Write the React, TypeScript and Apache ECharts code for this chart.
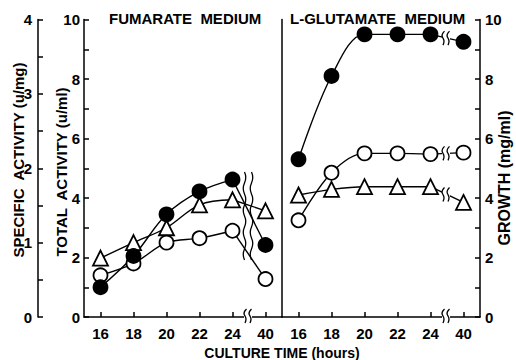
import React, { useEffect, useRef } from "react";
import * as echarts from "echarts";

// ---- data ----
const categories = ["16", "18", "20", "22", "24", "40"];
// Fumarate medium
const fumarateTotal = [1.0, 2.05, 3.45, 4.22, 4.62, 2.42]; // u/ml (filled circles)
const fumarateSpecific = [0.56, 0.72, 1.0, 1.06, 1.16, 0.51]; // u/mg (open circles)
const fumarateGrowth = [1.98, 2.5, 3.0, 3.77, 3.94, 3.57]; // mg/ml (triangles)
// L-glutamate medium
const glutamateTotal = [5.3, 8.1, 9.5, 9.5, 9.5, 9.25];
const glutamateSpecific = [1.3, 1.94, 2.2, 2.2, 2.19, 2.21];
const glutamateGrowth = [4.1, 4.29, 4.38, 4.38, 4.38, 3.85];

const totalRange = [0, 10];
const specificRange = [0, 4];
const growthRange = [0, 10];

const panelTitles = ["FUMARATE  MEDIUM", "L-GLUTAMATE  MEDIUM"];
const xName = "CULTURE TIME (hours)";
const totalName = "TOTAL  ACTIVITY (u/ml)";
const specificName = "SPECIFIC  ACTIVITY (u/mg)";
const growthName = "GROWTH (mg/ml)";

const FONT = "Liberation Sans";

function wavePath(h: number, n: number, amp: number) {
  const seg = h / n;
  let d = "M0,0";
  for (let i = 0; i < n; i++) {
    const cx = i % 2 === 0 ? amp : -amp;
    d += ` Q${cx},${(i + 0.5) * seg} 0,${(i + 1) * seg}`;
  }
  return d;
}

echarts.graphic.registerShape(
  "breakWave",
  echarts.graphic.extendPath(wavePath(88, 8, 2.5), {})
);
echarts.graphic.registerShape(
  "breakMark",
  echarts.graphic.extendPath(
    "M3,-7 Q-1,-3 1.5,0 Q3.5,3 1.5,7 M8,-7 Q4,-3 6.5,0 Q8.5,3 6.5,7",
    {}
  )
);

function makeSeries(
  values: number[],
  xi: number,
  yi: number,
  symbol: string,
  filled: boolean,
  size: number
) {
  const itemStyle = {
    color: filled ? "#000" : "#fff",
    borderColor: "#000",
    borderWidth: 1.8,
  };
  const lineStyle = { color: "#000", width: 1.4 };
  return [
    {
      type: "line",
      xAxisIndex: xi,
      yAxisIndex: yi,
      data: values.slice(0, 5),
      smooth: 0.35,
      symbol,
      symbolSize: size,
      itemStyle,
      lineStyle,
      silent: true,
      z: 3,
    },
    {
      type: "line",
      xAxisIndex: xi,
      yAxisIndex: yi,
      data: [null, null, null, null, { value: values[4], symbol: "none" }, values[5]],
      symbol,
      symbolSize: size,
      itemStyle,
      lineStyle,
      silent: true,
      z: 3,
    },
  ];
}

const labelStyle = {
  color: "#000",
  fontSize: 15,
  fontWeight: "bold",
  fontFamily: FONT,
};
const axisLineStyle = { color: "#000", width: 1.5 };

function xAxis(gridIndex: number) {
  return {
    type: "category",
    gridIndex,
    data: categories,
    boundaryGap: true,
    axisLine: { show: true, lineStyle: axisLineStyle },
    axisTick: { show: true, inside: true, alignWithLabel: true, length: 5, lineStyle: axisLineStyle },
    axisLabel: { ...labelStyle, margin: 9 },
    splitLine: { show: false },
  };
}

export default function App() {
  const ref = useRef<HTMLDivElement>(null);
  useEffect(() => {
    if (!ref.current) return;
    const chart = echarts.init(ref.current, null, { renderer: "svg" });
    const option: any = {
      animation: false,
      backgroundColor: "#fff",
      grid: [
        { left: 84, top: 19.5, width: 198, height: 297.5 },
        { left: 282, top: 19.5, width: 198, height: 297.5 },
      ],
      xAxis: [xAxis(0), xAxis(1)],
      yAxis: [
        {
          type: "value",
          gridIndex: 0,
          position: "left",
          min: totalRange[0],
          max: totalRange[1],
          interval: 1,
          axisLine: { show: true, lineStyle: axisLineStyle },
          axisTick: { show: true, inside: true, length: 5, lineStyle: axisLineStyle },
          axisLabel: {
            ...labelStyle,
            margin: 4,
            formatter: (v: number) => (v % 2 === 0 ? String(v) : ""),
          },
          splitLine: { show: false },
        },
        {
          type: "value",
          gridIndex: 0,
          position: "left",
          offset: 46,
          min: specificRange[0],
          max: specificRange[1],
          interval: 0.5,
          axisLine: { show: true, lineStyle: axisLineStyle },
          axisTick: { show: true, inside: true, length: 5, lineStyle: axisLineStyle },
          axisLabel: {
            ...labelStyle,
            margin: 6,
            formatter: (v: number) => (Number.isInteger(v) ? String(v) : ""),
          },
          splitLine: { show: false },
        },
        {
          type: "value",
          gridIndex: 0,
          show: false,
          min: growthRange[0],
          max: growthRange[1],
        },
        {
          type: "value",
          gridIndex: 1,
          position: "right",
          min: growthRange[0],
          max: growthRange[1],
          interval: 1,
          axisLine: { show: true, lineStyle: axisLineStyle },
          axisTick: { show: true, inside: true, length: 5, lineStyle: axisLineStyle },
          axisLabel: {
            ...labelStyle,
            margin: 5,
            formatter: (v: number) => (v % 2 === 0 ? String(v) : ""),
          },
          splitLine: { show: false },
        },
        {
          type: "value",
          gridIndex: 1,
          position: "left",
          min: totalRange[0],
          max: totalRange[1],
          axisLine: { show: true, lineStyle: axisLineStyle },
          axisTick: { show: false },
          axisLabel: { show: false },
          splitLine: { show: false },
        },
        {
          type: "value",
          gridIndex: 1,
          show: false,
          min: specificRange[0],
          max: specificRange[1],
        },
      ],
      series: [
        ...makeSeries(fumarateGrowth, 0, 2, "triangle", false, 15),
        ...makeSeries(fumarateSpecific, 0, 1, "circle", false, 14),
        ...makeSeries(fumarateTotal, 0, 0, "circle", true, 14),
        ...makeSeries(glutamateGrowth, 1, 3, "triangle", false, 15),
        ...makeSeries(glutamateSpecific, 1, 5, "circle", false, 14),
        ...makeSeries(glutamateTotal, 1, 4, "circle", true, 14),
      ],
    };
    chart.setOption(option);

    // break positions computed through the axes
    const bx0 =
      ((chart.convertToPixel({ xAxisIndex: 0 }, "24") as number) +
        (chart.convertToPixel({ xAxisIndex: 0 }, "40") as number)) / 2 - 1;
    const bx1 =
      ((chart.convertToPixel({ xAxisIndex: 1 }, "24") as number) +
        (chart.convertToPixel({ xAxisIndex: 1 }, "40") as number)) / 2 - 1;
    const yBase = chart.convertToPixel({ yAxisIndex: 0 }, 0) as number;
    const markY = (vals: number[], yi: number) =>
      chart.convertToPixel({ yAxisIndex: yi }, (vals[4] + vals[5]) / 2) as number;

    const stroke = { stroke: "#000", lineWidth: 1.3, fill: "none" };
    const mark = (x: number, y: number) => [
      { type: "rect", z: 20, shape: { x: x - 4, y: y - 5, width: 8, height: 10 }, style: { fill: "#fff" } },
      { type: "breakMark", z: 21, x: x - 4.5, y, style: stroke },
    ];

    const textStyle = (size: number) => `bold ${size}px "${FONT}"`;
    const graphic: any[] = [
      { type: "text", z: 30, x: 109, y: 18.5, style: { text: panelTitles[0], font: textStyle(15), fill: "#000", align: "left", verticalAlign: "middle" } },
      { type: "text", z: 30, x: 290, y: 18.5, style: { text: panelTitles[1], font: textStyle(15), fill: "#000", align: "left", verticalAlign: "middle" } },
      { type: "text", z: 30, x: 282, y: 353, style: { text: xName, font: textStyle(14), fill: "#000", align: "center", verticalAlign: "middle" } },
      { type: "text", z: 30, x: 61, y: 172, rotation: Math.PI / 2, style: { text: totalName, font: textStyle(15), fill: "#000", align: "center", verticalAlign: "middle" } },
      { type: "text", z: 30, x: 18, y: 160, rotation: Math.PI / 2, style: { text: specificName, font: textStyle(15), fill: "#000", align: "center", verticalAlign: "middle" } },
      { type: "text", z: 30, x: 504, y: 178, rotation: Math.PI / 2, style: { text: growthName, font: textStyle(16), fill: "#000", align: "center", verticalAlign: "middle" } },
      { type: "breakWave", z: 21, x: bx0 - 3.5, y: 172, style: stroke },
      { type: "breakWave", z: 21, x: bx0 + 3.5, y: 172, style: stroke },
      ...mark(bx0, yBase - 1),
      ...mark(bx1, yBase - 1),
      ...mark(bx1, markY(glutamateTotal, 4)),
      ...mark(bx1, markY(glutamateSpecific, 5)),
      ...mark(bx1, markY(glutamateGrowth, 3)),
    ];
    chart.setOption({ graphic });

    return () => chart.dispose();
  }, []);
  return (
    <div
      ref={ref}
      style={{ position: "fixed", left: 0, top: 0, width: 516, height: 360, background: "#fff" }}
    />
  );
}
